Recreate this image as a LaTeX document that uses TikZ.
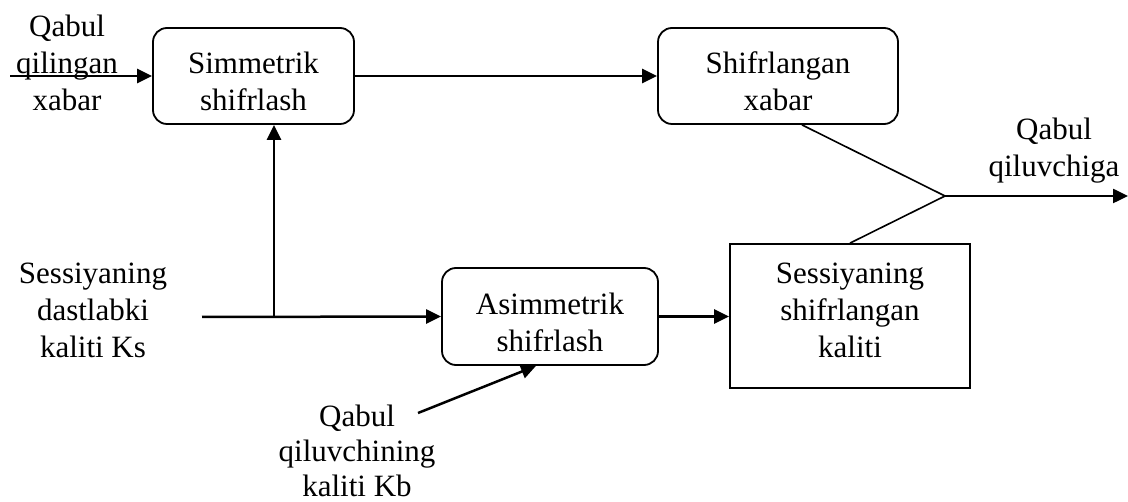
\documentclass[tikz,border=0pt]{standalone}
\usepackage{fontspec}
\setmainfont{Liberation Serif}
\usetikzlibrary{arrows.meta}

% struts that push box text down or up
\newcommand{\boxtopstrut}{\rule{0pt}{33pt}}
\newcommand{\boxbotstrut}{\rule[-12pt]{0pt}{12pt}}

\tikzset{
  blok/.style={draw, line width=1.8pt, rounded corners=14pt, align=center, inner sep=0pt},
  kvadrat/.style={draw, line width=1.8pt, align=center, inner sep=0pt},
  matn/.style={align=center, inner sep=0pt},
  strelka/.style={line width=2.5pt, -{Triangle[length=15pt,width=14pt]}},
  chiziq/.style={line width=1.6pt}
}

\begin{document}
\begin{tikzpicture}[x=1pt, y=-1pt, font=\fontsize{31}{37}\selectfont]
\useasboundingbox (0,0) rectangle (1128,502);
% Boxes
\node[blok, minimum width=201pt, minimum height=96pt] (sim) at (253.5,76) {\boxtopstrut Simmetrik\\shifrlash};
\node[blok, minimum width=240pt, minimum height=96pt] (shifr) at (778,76) {\boxtopstrut Shifrlangan\\xabar};
\node[blok, minimum width=216pt, minimum height=97pt] (asim) at (550,316.5) {\boxtopstrut Asimmetrik\\shifrlash};
\node[kvadrat, minimum width=240pt, minimum height=144pt] (kalit) at (850,316) {Sessiyaning\\shifrlangan\\kaliti\boxbotstrut};
% Labels
\node[matn] (inLbl) at (67,63) {Qabul\\qilingan\\xabar};
\node[matn] (keyLbl) at (93,310) {Sessiyaning\\dastlabki\\kaliti Ks};
\node[matn, font=\fontsize{31}{35}\selectfont] (kbLbl) at (357,451) {Qabul\\qiluvchining\\kaliti Kb};
\node[matn] (outLbl) at (1054,151) {Qabul\\qiluvchiga};
% Free ends
\coordinate (inStart) at (10,76);
\coordinate (keyStart) at (202,317);
\coordinate (split) at (274,317);
\coordinate (kbStart) at (418,413);
\coordinate (merge) at (945,196);
\coordinate (outEnd) at (1128,196);
% Arrows
\draw[strelka] (inStart) -- (sim.west);
\draw[strelka] (sim.east) -- (shifr.west);
\draw[strelka] (keyStart) -- (asim.west);
\draw[strelka] (split) -- (split |- sim.south);
\draw[strelka] (asim.east) -- (asim.east -| kalit.west);
\draw[strelka] (kbStart) -- ([xshift=-14pt]asim.south);
\draw[chiziq] ([xshift=24pt]shifr.south) -- (merge) -- (kalit.north);
\draw[strelka] (merge) -- (outEnd);
\end{tikzpicture}
\end{document}
